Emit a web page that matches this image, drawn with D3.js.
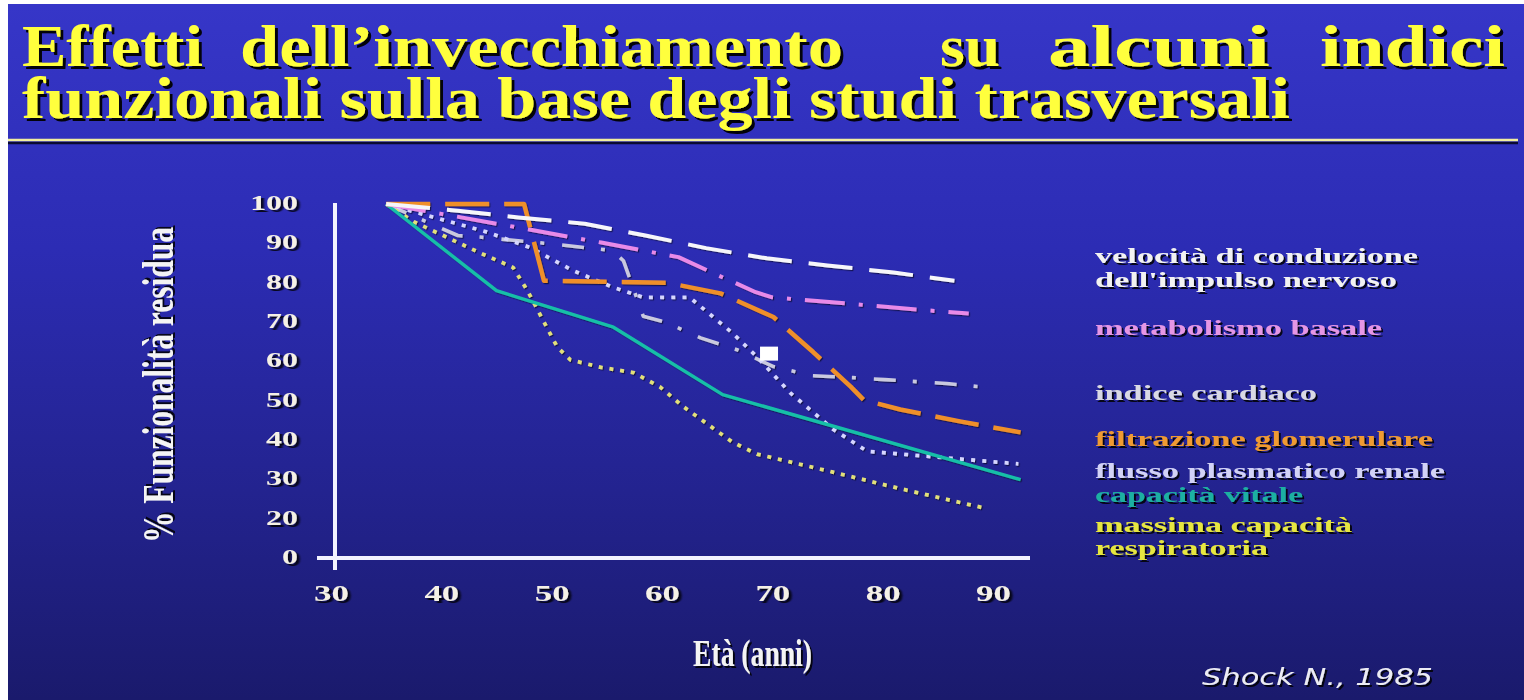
<!DOCTYPE html>
<html>
<head>
<meta charset="utf-8">
<script src="https://cdn.jsdelivr.net/npm/d3@7"></script>
<style>
  html, body { margin: 0; padding: 0; background: #ffffff; overflow: hidden; }
  svg { display: block; }
</style>
</head>
<body>
<svg id="chart" width="1524" height="700"></svg>
<script>
// ---- Data: età (anni) → % funzionalità residua ----
const velocitaConduzione = [[35,100],[41.5,98.3],[47,96.6],[53,95],[58.5,92],[64,88.8],[69.5,86.2],[75,84.4],[81,82.6],[86.5,80.5]];
const metabolismoBasale = [[35,100],[40,97.5],[47,94],[54.5,90.2],[61.5,86.5],[65,82],[68.5,77.6],[70,76.3],[76,74.9],[84,73],[87.8,72.2]];
const indiceCardiaco = [[35,100],[41.5,92],[43.5,91.6],[49.5,90],[55.5,88.2],[56.5,85.6],[58.3,71.5],[60.3,70],[63.5,66],[66.8,63],[70.1,58.7],[73.6,56.4],[77.3,55.9],[80.2,55.4],[85.8,54.4],[88.8,53.6]];
const filtrazioneGlomerulare = [[35,100],[47.5,100],[49.3,80.5],[60.5,80],[65.3,77.3],[70.1,71.3],[73.7,62.4],[77.1,53.6],[78.3,50.2],[81.6,47.8],[87,44.8],[92.5,42]];
const flussoPlasmatico = [[35,100],[44,93],[48,89],[52,83],[55.6,78.8],[58.3,76.3],[62.5,76.3],[66.4,67.2],[68.6,61.2],[71.6,52.1],[75.5,42.8],[78.6,37.2],[92.3,34]];
const capacitaVitale = [[35,100],[45,78],[55.6,68.7],[65.5,51.6],[92.5,30]];
const massimaCapacitaResp = [[35,100],[37.5,95.5],[43.5,87.6],[46.5,83.9],[47.8,78],[50.5,63.7],[51.7,60.4],[54.5,58.5],[57.4,57.2],[59.8,53.6],[61.9,48.6],[66.4,39.5],[68.6,36.5],[75.5,31.9],[81.6,27.7],[89.5,22.6]];

// small white marker inside the plot
const markerPoints = [[69.7, 62]];

// ---- Tick labels ----
const xTicks = [30, 40, 50, 60, 70, 80, 90];
const yTicks = [0, 20, 30, 40, 50, 60, 70, 80, 90, 100];

// ---- Text ----
const titleLine1 = ["Effetti", "dell’invecchiamento", "su", "alcuni", "indici"];
const titleLine2 = "funzionali sulla base degli studi trasversali";
const yTitle = "% Funzionalità residua";
const xTitle = "Età (anni)";
const credit = "Shock N., 1985";
const legendLabels = ["velocità di conduzione", "dell'impulso nervoso", "metabolismo basale", "indice cardiaco",
  "filtrazione glomerulare", "flusso plasmatico renale", "capacità vitale", "massima capacità", "respiratoria"];

// ---- Series styling ----
const series = [
  { data: indiceCardiaco,        color: "#c9c9df", dash: "22,17,4,18", width: 3.6 },
  { data: flussoPlasmatico,      color: "#d6d6ff", dash: "4,7.2",      width: 3.8 },
  { data: massimaCapacitaResp,   color: "#e2e07a", dash: "4,6.8",      width: 3.8 },
  { data: capacitaVitale,        color: "#19bfa8", dash: null,         width: 3.4 },
  { data: metabolismoBasale,     color: "#e88ae8", dash: "40,14,4,14", width: 4 },
  { data: filtrazioneGlomerulare,color: "#ef8f2c", dash: "44,15",      width: 4.5 },
  { data: velocitaConduzione,    color: "#f6f6fa", dash: "44,17",      width: 4 }
];

// legend layout: [baseline y, width, colour]
const legendLayout = [
  [263, 323, "#f2f2f2"], [287, 302, "#f2f2f2"], [335, 287, "#e596e5"], [400, 222, "#d9d9e4"],
  [446, 338, "#ef9a32"], [478, 350, "#d2d2f6"], [502, 208, "#1fb0a2"], [532, 257, "#e6e640"], [555, 173, "#e6e640"]
];

const svg = d3.select("#chart");
const defs = svg.append("defs");

const grad = defs.append("linearGradient").attr("id", "bg").attr("x1", 0).attr("y1", 0).attr("x2", 0).attr("y2", 1);
[[0, "#3636c8"], [0.35, "#2c2cb4"], [0.7, "#23238f"], [1, "#1a1a6c"]].forEach(([o, c]) =>
  grad.append("stop").attr("offset", o).attr("stop-color", c));

const shadow = defs.append("filter").attr("id", "shadow")
  .attr("x", "-10%").attr("y", "-20%").attr("width", "130%").attr("height", "150%");
shadow.append("feDropShadow").attr("dx", 2).attr("dy", 2).attr("stdDeviation", 0.7)
  .attr("flood-color", "#000").attr("flood-opacity", 0.85);

const bigShadow = defs.append("filter").attr("id", "bigShadow")
  .attr("x", "-5%").attr("y", "-20%").attr("width", "115%").attr("height", "150%");
bigShadow.append("feDropShadow").attr("dx", 3).attr("dy", 3).attr("stdDeviation", 0.6)
  .attr("flood-color", "#000").attr("flood-opacity", 0.95);

const lineShadow = defs.append("filter").attr("id", "lineShadow")
  .attr("x", "-5%").attr("y", "-5%").attr("width", "115%").attr("height", "115%");
lineShadow.append("feDropShadow").attr("dx", 1.2).attr("dy", 1.2).attr("stdDeviation", 0.5)
  .attr("flood-color", "#000").attr("flood-opacity", 0.55);

// slide background with a thin white margin at left and top
svg.append("rect").attr("width", 1524).attr("height", 700).attr("fill", "#ffffff");
svg.append("rect").attr("x", 8).attr("y", 4).attr("width", 1516).attr("height", 696).attr("fill", "url(#bg)");

// ---- Title (justified words) ----
const serif = "'Liberation Serif', 'Times New Roman', serif";
const title = svg.append("g").attr("font-family", serif).attr("font-weight", "bold")
  .attr("font-size", 60).attr("fill", "#ffff3c").attr("filter", "url(#bigShadow)");
const line1Spans = [[22, 203], [240, 843], [940, 1000], [1048, 1270], [1320, 1505]];
titleLine1.forEach((w, i) => {
  title.append("text").attr("x", line1Spans[i][0]).attr("y", 66)
    .attr("textLength", line1Spans[i][1] - line1Spans[i][0]).attr("lengthAdjust", "spacingAndGlyphs").text(w);
});
title.append("text").attr("x", 22).attr("y", 118)
  .attr("textLength", 1268).attr("lengthAdjust", "spacingAndGlyphs").text(titleLine2);

svg.append("line").attr("x1", 8).attr("x2", 1518).attr("y1", 143).attr("y2", 143)
  .attr("stroke", "#0a0a30").attr("stroke-width", 2.5);
svg.append("line").attr("x1", 8).attr("x2", 1518).attr("y1", 140).attr("y2", 140)
  .attr("stroke", "#f2eea0").attr("stroke-width", 2.6);

// ---- Scales ----
const x = d3.scaleLinear().domain([30, 90]).range([331, 993]);
// the 0–20 band is compressed into one tick step
const y = d3.scaleLinear().domain([0, 20, 100]).range([558, 519, 204]);

// ---- Axes ----
const axisColor = "#f3f3ff";
const gy = svg.append("g").attr("transform", "translate(335,0)")
  .call(d3.axisLeft(y).tickValues(yTicks).tickSize(0).tickFormat(d3.format("d")));
gy.select(".domain").remove();
gy.attr("font-family", serif).attr("font-size", 22).attr("font-weight", "bold");
gy.selectAll("text").attr("x", 0).attr("dy", "0.33em").attr("fill", "#f5f1e6")
  .attr("transform", "translate(-37,-2) scale(1.45,1)").attr("filter", "url(#shadow)");

const gx = svg.append("g").attr("transform", `translate(0,${y(0)})`)
  .call(d3.axisBottom(x).tickValues(xTicks).tickSize(0).tickFormat(d3.format("d")));
gx.select(".domain").remove();
gx.attr("font-family", serif).attr("font-size", 24).attr("font-weight", "bold");
gx.selectAll("text").attr("y", 0).attr("dy", "0.35em").attr("fill", "#f5f1e6")
  .attr("transform", "translate(0,35) scale(1.45,1)").attr("filter", "url(#shadow)");

svg.append("line").attr("x1", 317).attr("x2", 1030).attr("y1", y(0)).attr("y2", y(0))
  .attr("stroke", axisColor).attr("stroke-width", 4);
svg.append("line").attr("x1", 335).attr("x2", 335).attr("y1", y(100) - 1).attr("y2", y(0) + 12)
  .attr("stroke", axisColor).attr("stroke-width", 4);

// ---- Series ----
const lineGen = d3.line().x(d => x(d[0])).y(d => y(d[1]));
const gLines = svg.append("g").attr("fill", "none").attr("filter", "url(#lineShadow)");
series.forEach(s => {
  gLines.append("path").attr("d", lineGen(s.data))
    .attr("stroke", s.color).attr("stroke-width", s.width)
    .attr("stroke-dasharray", s.dash)
    .attr("stroke-linejoin", "round");
});

svg.selectAll("rect.marker").data(markerPoints).join("rect").attr("class", "marker")
  .attr("x", d => x(d[0]) - 9).attr("y", d => y(d[1]) - 7)
  .attr("width", 18).attr("height", 14).attr("fill", "#ffffff");

// ---- Axis titles ----
svg.append("text").attr("transform", `translate(173,${(y(100) + y(0)) / 2 + 4}) rotate(-90)`)
  .attr("text-anchor", "middle").attr("font-family", serif).attr("font-weight", "bold")
  .attr("font-size", 44).attr("fill", "#f4f4f4").attr("filter", "url(#shadow)")
  .attr("textLength", 316).attr("lengthAdjust", "spacingAndGlyphs").text(yTitle);

svg.append("text").attr("x", 693).attr("y", 666)
  .attr("font-family", serif).attr("font-weight", "bold")
  .attr("font-size", 37).attr("fill", "#f4f4f4").attr("filter", "url(#shadow)")
  .attr("textLength", 119).attr("lengthAdjust", "spacingAndGlyphs").text(xTitle);

// ---- Legend ----
const gLegend = svg.append("g").attr("font-family", serif).attr("font-weight", "bold")
  .attr("font-size", 22).attr("filter", "url(#shadow)");
gLegend.selectAll("text").data(legendLabels).join("text")
  .attr("x", 1095).attr("y", (d, i) => legendLayout[i][0])
  .attr("fill", (d, i) => legendLayout[i][2])
  .attr("textLength", (d, i) => legendLayout[i][1]).attr("lengthAdjust", "spacingAndGlyphs")
  .text(d => d);

// ---- Source ----
svg.append("text").attr("x", 1202).attr("y", 685)
  .attr("font-family", "'DejaVu Sans', Verdana, sans-serif").attr("font-style", "italic")
  .attr("font-size", 23).attr("fill", "#ececf4").attr("filter", "url(#shadow)")
  .attr("textLength", 231).attr("lengthAdjust", "spacingAndGlyphs").text(credit);
</script>
</body>
</html>
